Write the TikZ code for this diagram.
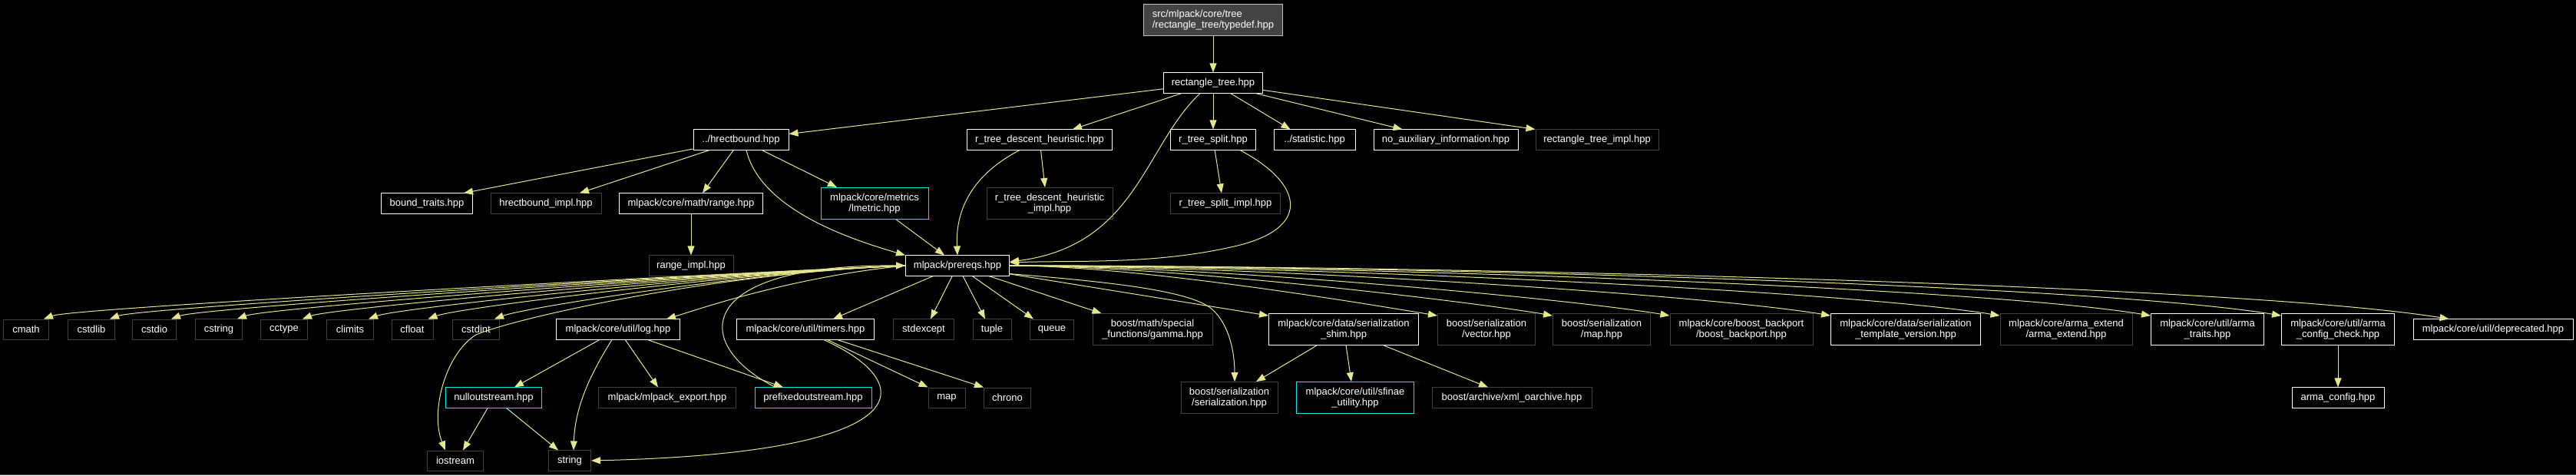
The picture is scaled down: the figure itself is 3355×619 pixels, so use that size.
\documentclass[tikz,border=0pt]{standalone}
\usepackage{fontspec}
\setmainfont{Liberation Sans}
\usetikzlibrary{arrows.meta,calc}
\definecolor{edgeYellow}{RGB}{230,230,143}
\definecolor{docWhite}{RGB}{255,255,255}
\definecolor{extGray}{RGB}{64,64,64}
\definecolor{truncCyan}{RGB}{0,235,235}
\definecolor{rootFill}{RGB}{68,68,68}
\definecolor{rootLine}{RGB}{191,191,191}
\definecolor{frameGray}{RGB}{90,90,90}
\newcommand{\graphfont}{\fontsize{13}{14.7}\selectfont}
\tikzset{
  hdr/.style={draw=docWhite, fill=black, text=white, line width=1pt, align=center, minimum height=26pt, inner xsep=10pt, inner ysep=7pt, font=\graphfont},
  ext/.style={hdr, draw=extGray},
  trunc/.style={hdr, draw=truncCyan},
  root/.style={hdr, draw=rootLine, fill=rootFill, align=left},
  incl/.style={-{Triangle[length=12pt,width=9pt]}, draw=edgeYellow, line width=1pt}
}

\begin{document}
\begin{tikzpicture}[x=1pt,y=-1pt]
  \fill[black] (0,0) rectangle (3355,619);
  \useasboundingbox (0,0) rectangle (3355,619);
  \draw[frameGray, line width=1pt] (0,618.5) -- (3355,618.5);

  \node[root, minimum width=181pt, minimum height=41pt] (root) at (1580,26) {src/mlpack/core/tree\\/rectangle\_tree/typedef.hpp};
  \node[hdr, minimum width=129pt] (rect) at (1580,108) {rectangle\_tree.hpp};

  \node[hdr, minimum width=124pt] (hrectbound) at (965,182) {../hrectbound.hpp};
  \node[hdr, minimum width=189pt] (rtdh) at (1354,182) {r\_tree\_descent\_heuristic.hpp};
  \node[hdr, minimum width=111pt] (rts) at (1580,182) {r\_tree\_split.hpp};
  \node[hdr, minimum width=106pt] (stat) at (1712,182) {../statistic.hpp};
  \node[hdr, minimum width=188pt] (noaux) at (1883,182) {no\_auxiliary\_information.hpp};
  \node[ext, minimum width=160pt] (rtimpl) at (2080,182) {rectangle\_tree\_impl.hpp};

  \node[hdr, minimum width=119pt] (boundtraits) at (556,265) {bound\_traits.hpp};
  \node[ext, minimum width=144pt] (hrbimpl) at (711,265) {hrectbound\_impl.hpp};
  \node[hdr, minimum width=187pt] (range) at (900,265) {mlpack/core/math/range.hpp};
  \node[trunc, minimum width=140pt, minimum height=41pt] (lmetric) at (1139,265) {mlpack/core/metrics\\/lmetric.hpp};
  \node[ext, minimum width=164pt, minimum height=41pt] (rtdhimpl) at (1367,265) {r\_tree\_descent\_heuristic\\\_impl.hpp};
  \node[ext, minimum width=143pt] (rtsimpl) at (1596,265) {r\_tree\_split\_impl.hpp};

  \node[ext, minimum width=110pt] (rangeimpl) at (900,346) {range\_impl.hpp};
  \node[hdr, minimum width=135pt] (prereqs) at (1247,346) {mlpack/prereqs.hpp};

  \node[ext, minimum width=59pt] (cmath) at (34,429) {cmath};
  \node[ext, minimum width=61pt] (cstdlib) at (119,429) {cstdlib};
  \node[ext, minimum width=57pt] (cstdio) at (201,429) {cstdio};
  \node[ext, minimum width=61pt] (cstring) at (285,429) {cstring};
  \node[ext, minimum width=61pt] (cctype) at (370,429) {cctype};
  \node[ext, minimum width=61pt] (climits) at (456,429) {climits};
  \node[ext, minimum width=54pt] (cfloat) at (537,429) {cfloat};
  \node[ext, minimum width=61pt] (cstdint) at (620,429) {cstdint};
  \node[hdr, minimum width=161pt] (log) at (805,429) {mlpack/core/util/log.hpp};
  \node[hdr, minimum width=179pt] (timers) at (1049,429) {mlpack/core/util/timers.hpp};
  \node[ext, minimum width=79pt] (stdexcept) at (1203,429) {stdexcept};
  \node[ext, minimum width=50pt] (tuple) at (1292,429) {tuple};
  \node[ext, minimum width=57pt] (queue) at (1370,429) {queue};
  \node[ext, minimum width=156pt, minimum height=40pt] (gamma) at (1501,429) {boost/math/special\\\_functions/gamma.hpp};
  \node[hdr, minimum width=195pt, minimum height=40pt] (shim) at (1750,429) {mlpack/core/data/serialization\\\_shim.hpp};
  \node[ext, minimum width=127pt, minimum height=40pt] (vector) at (1936,429) {boost/serialization\\/vector.hpp};
  \node[ext, minimum width=127pt, minimum height=40pt] (bmap) at (2086,429) {boost/serialization\\/map.hpp};
  \node[ext, minimum width=186pt, minimum height=40pt] (backport) at (2268,429) {mlpack/core/boost\_backport\\/boost\_backport.hpp};
  \node[hdr, minimum width=195pt, minimum height=40pt] (tmplver) at (2482,429) {mlpack/core/data/serialization\\\_template\_version.hpp};
  \node[ext, minimum width=172pt, minimum height=40pt] (armaext) at (2691,429) {mlpack/core/arma\_extend\\/arma\_extend.hpp};
  \node[hdr, minimum width=147pt, minimum height=40pt] (armatraits) at (2875,429) {mlpack/core/util/arma\\\_traits.hpp};
  \node[hdr, minimum width=147pt, minimum height=40pt] (armacfg) at (3045,429) {mlpack/core/util/arma\\\_config\_check.hpp};
  \node[hdr, minimum width=208pt] (deprecated) at (3247,429) {mlpack/core/util/deprecated.hpp};

  \node[trunc, minimum width=125pt] (nullout) at (643,518) {nulloutstream.hpp};
  \node[ext, minimum width=179pt] (export) at (869,518) {mlpack/mlpack\_export.hpp};
  \node[trunc, minimum width=152pt] (prefixed) at (1059,518) {prefixedoutstream.hpp};
  \node[ext, minimum width=48pt] (map) at (1233,518) {map};
  \node[ext, minimum width=61pt] (chrono) at (1312,518) {chrono};
  \node[ext, minimum width=126pt, minimum height=40pt] (serial) at (1601,518) {boost/serialization\\/serialization.hpp};
  \node[trunc, minimum width=153pt, minimum height=40pt] (sfinae) at (1765,518) {mlpack/core/util/sfinae\\\_utility.hpp};
  \node[ext, minimum width=208pt] (xmlarch) at (1969,518) {boost/archive/xml\_oarchive.hpp};
  \node[hdr, minimum width=120pt] (armaconfig) at (3045,518) {arma\_config.hpp};

  \node[ext, minimum width=73pt] (iostream) at (593,600) {iostream};
  \node[ext, minimum width=55pt] (string) at (742,600) {string};

  \draw[incl] (root) -- (rect);
  \draw[incl] (rect) -- (hrectbound);
  \draw[incl] (rect) -- ($(rtdh.north)+(43,0)$);
  \draw[incl] (rect) -- (rts);
  \draw[incl] (rect) -- ($(stat.north west)+(22,0)$);
  \draw[incl] (rect) -- ($(noaux.north west)+(38,0)$);
  \draw[incl] (rect) -- (rtimpl.north west);
  \draw[incl] ($(rect.south)+(-17,0)$) .. controls +(-73,69) and +(165,-21) .. ($(prereqs.east)+(0,-5)$);

  \draw[incl] (hrectbound) -- ($(boundtraits.north east)+(-12,0)$);
  \draw[incl] (hrectbound) -- ($(hrbimpl.north)+(44,0)$);
  \draw[incl] (hrectbound) -- ($(range.north)+(15,0)$);
  \draw[incl] (hrectbound) -- ($(lmetric.north)+(-49,0)$);
  \draw[incl] ($(hrectbound.south)+(7,0)$) .. controls +(18,75) and +(-79,-23) .. (prereqs.north west);
  \draw[incl] ($(rtdh.south)+(-26,0)$) .. controls +(-58,30) and +(-3,-63) .. (prereqs.north);
  \draw[incl] (rtdh) -- ($(rtdhimpl.north)+(-6,0)$);
  \draw[incl] (rts) -- ($(rtsimpl.north)+(-5,0)$);
  \draw[incl] ($(rts.south)+(35,0)$) .. controls +(85,45) and +(110,-22) .. ++(-15,127)
    .. controls +(-100,22) and +(85,-3) .. ($(prereqs.east)+(0,-4)$);
  \draw[incl] (range) -- (rangeimpl);
  \draw[incl] (lmetric) -- ($(prereqs.north)+(-17,0)$);

  \draw[incl] (prereqs.west) .. controls +(-200,8) and +(40,-15) .. ($(cmath.north east)+(-7,0)$);
  \draw[incl] (prereqs.west) .. controls +(-200,8) and +(40,-15) .. ($(cstdlib.north east)+(-7,0)$);
  \draw[incl] (prereqs.west) .. controls +(-200,8) and +(40,-15) .. ($(cstdio.north east)+(-7,0)$);
  \draw[incl] (prereqs.west) .. controls +(-200,8) and +(40,-15) .. ($(cstring.north east)+(-7,0)$);
  \draw[incl] (prereqs.west) .. controls +(-200,8) and +(40,-15) .. ($(cctype.north east)+(-7,0)$);
  \draw[incl] (prereqs.west) .. controls +(-200,8) and +(40,-15) .. ($(climits.north east)+(-7,0)$);
  \draw[incl] (prereqs.west) .. controls +(-200,8) and +(40,-15) .. ($(cfloat.north east)+(-7,0)$);
  \draw[incl] (prereqs.west) .. controls +(-200,8) and +(40,-15) .. ($(cstdint.north east)+(-7,0)$);
  \draw[incl] (prereqs.west) .. controls +(-230,8) and +(60,-25) .. ++(-559,90)
    .. controls +(-40,25) and +(-20,-50) .. ($(iostream.north)+(-13,0)$);
  \draw[incl] (prereqs.west) .. controls +(-150,15) and +(40,-12) .. ($(log.north east)+(-18,0)$);
  \draw[incl] (prereqs) -- ($(timers.north)+(36,0)$);
  \draw[incl] (prereqs) -- ($(stdexcept.north)+(9,0)$);
  \draw[incl] (prereqs) -- ($(tuple.north)+(-9,0)$);
  \draw[incl] (prereqs) -- ($(queue.north west)+(5,0)$);
  \draw[incl] (prereqs) -- ($(gamma.north west)+(12,0)$);
  \draw[incl] ($(prereqs.south east)+(0,-3)$) .. controls +(106,9) and +(-35,-25) .. ++(261,44)
    .. controls +(25,20) and +(0,-38) .. ($(serial.north)+(7,0)$);
  \draw[incl] (prereqs) -- ($(shim.north west)+(0,3)$);
  \draw[incl] (prereqs.east) .. controls +(170,0) and +(-85,-14) .. ($(vector.north west)+(0,3)$);
  \draw[incl] (prereqs.east) .. controls +(210,0) and +(-105,-18) .. ($(bmap.north west)+(0,3)$);
  \draw[incl] (prereqs.east) .. controls +(260,0) and +(-130,-22) .. ($(backport.north west)+(0,3)$);
  \draw[incl] (prereqs.east) .. controls +(320,0) and +(-160,-27) .. ($(tmplver.north west)+(0,3)$);
  \draw[incl] (prereqs.east) .. controls +(390,0) and +(-195,-32) .. ($(armaext.north west)+(0,3)$);
  \draw[incl] (prereqs.east) .. controls +(450,0) and +(-225,-37) .. ($(armatraits.north west)+(0,3)$);
  \draw[incl] (prereqs.east) .. controls +(500,0) and +(-250,-41) .. ($(armacfg.north west)+(0,3)$);
  \draw[incl] (prereqs.east) .. controls +(560,0) and +(-280,-45) .. ($(deprecated.north west)+(47,0)$);

  \draw[incl] (log) -- ($(nullout.north)+(27,0)$);
  \draw[incl] ($(log.south)+(-8,0)$) .. controls +(-25,40) and +(2,-60) .. ($(string.north)+(5,0)$);
  \draw[incl] (log) -- ($(export.north)+(-12,0)$);
  \draw[incl] (log) -- ($(prefixed.north)+(-39,0)$);
  \draw[incl] (timers) -- (map.north west);
  \draw[incl] (timers) -- (chrono.north west);
  \draw[incl] ($(timers.south)+(24,0)$) .. controls +(127,58) and +(430,-10) .. (string.east);
  \draw[incl] ($(prefixed.north)+(-49,0)$) .. controls +(-110,-55) and +(-279,-2) .. (prereqs.west);
  \draw[incl] (nullout) -- ($(iostream.north)+(10,0)$);
  \draw[incl] (nullout) -- ($(string.north)+(-15,0)$);
  \draw[incl] (shim) -- ($(serial.north)+(35,0)$);
  \draw[incl] (shim) -- ($(sfinae.north)+(-5,0)$);
  \draw[incl] (shim) -- ($(xmlarch.north)+(-31,0)$);
  \draw[incl] (armacfg) -- (armaconfig);
\end{tikzpicture}
\end{document}
